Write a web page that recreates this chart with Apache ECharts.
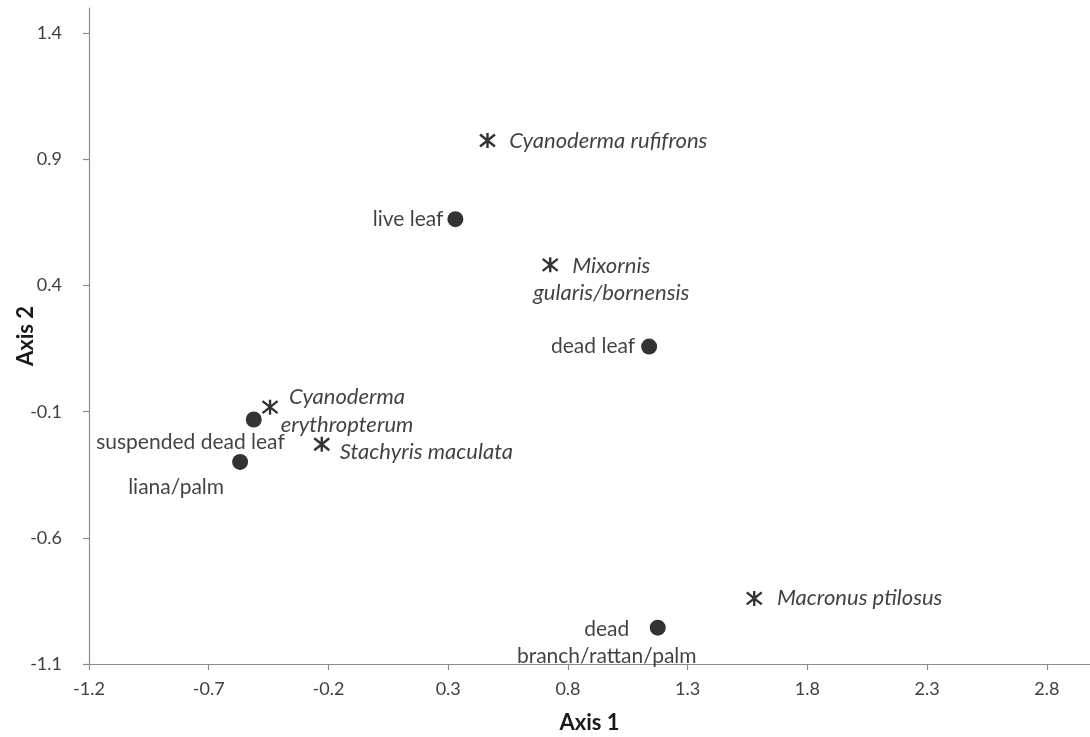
<!DOCTYPE html>
<html>
<head>
<meta charset="utf-8">
<script src="https://cdn.jsdelivr.net/npm/echarts@6/dist/echarts.min.js"></script>
<style>
  html, body { margin: 0; padding: 0; background: #ffffff; }
  #chart { width: 1090px; height: 737px; }
</style>
</head>
<body>
<div id="chart"></div>
<script>
// ---- data ----
var habitatNames = ['live leaf', 'dead leaf', 'suspended dead leaf', 'liana/palm', 'dead\nbranch/rattan/palm'];
var habitatX = [0.330, 1.139, -0.512, -0.569, 1.175];
var habitatY = [0.663, 0.158, -0.131, -0.299, -0.956];

var speciesNames = ['Cyanoderma rufifrons', 'Mixornis\ngularis/bornensis', 'Cyanoderma\nerythropterum', 'Stachyris maculata', 'Macronus ptilosus'];
var speciesX = [0.464, 0.726, -0.444, -0.228, 1.578];
var speciesY = [0.975, 0.482, -0.082, -0.229, -0.840];

var xTicks = [-1.2, -0.7, -0.2, 0.3, 0.8, 1.3, 1.8, 2.3, 2.8];
var yTicks = [-1.1, -0.6, -0.1, 0.4, 0.9, 1.4];

// ---- label placement (styling) ----
var habitatLabelStyle = [
  { position: 'left', distance: 4 },
  { position: 'left', distance: 6 },
  { position: 'inside', align: 'right', offset: [31, 23] },
  { position: 'inside', align: 'center', offset: [-64, 25] },
  { position: 'inside', align: 'center', offset: [-51, 15], lineHeight: 27 }
];
var speciesLabelStyle = [
  { position: 'right', distance: 13 },
  { position: 'inside', align: 'center', offset: [61, 15], lineHeight: 27 },
  { position: 'inside', align: 'center', offset: [77, 4], lineHeight: 28 },
  { position: 'inside', align: 'left', offset: [18, 8] },
  { position: 'right', distance: 14 }
];

var FONT = 'Lato';

function buildData(names, xs, ys, styles, italic) {
  return names.map(function (n, i) {
    var lab = Object.assign({
      show: true, fontFamily: FONT, fontSize: italic ? 22 : 21, color: '#111111'
    }, styles[i], { formatter: n });
    if (italic) lab.fontStyle = 'italic';
    return { name: n, value: [xs[i], ys[i]], label: lab };
  });
}

var starPath = 'path://M5,0L5,10M0,1L10,9M0,9L10,1';

var chart = echarts.init(document.getElementById('chart'), null, { renderer: 'canvas' });
chart.setOption({
  animation: false,
  backgroundColor: '#ffffff',
  grid: { left: 89, right: 0, top: 8, bottom: 73, containLabel: false, outerBoundsMode: 'none' },
  xAxis: {
    type: 'value',
    min: -1.2,
    max: 2.98,
    name: 'Axis 1',
    nameLocation: 'middle',
    nameGap: 48,
    nameTextStyle: { fontFamily: FONT, fontWeight: 'bold', fontSize: 22, color: '#1a1a1a' },
    axisLine: { show: true, onZero: false, lineStyle: { color: '#8c8c8c', width: 1.2 } },
    axisTick: { show: true, length: 6, lineStyle: { color: '#8c8c8c', width: 1.2 }, customValues: xTicks },
    axisLabel: {
      customValues: xTicks,
      margin: 16,
      fontFamily: FONT, fontSize: 18, color: '#404040',
      formatter: function (v) { return v.toFixed(1); }
    },
    splitLine: { show: false }
  },
  yAxis: {
    type: 'value',
    min: -1.1,
    max: 1.5,
    name: 'Axis 2',
    nameLocation: 'middle',
    nameRotate: 90,
    nameGap: 52,
    nameMoveOverlap: false,
    nameTextStyle: { fontFamily: FONT, fontWeight: 'bold', fontSize: 22, color: '#1a1a1a' },
    axisLine: { show: true, onZero: false, lineStyle: { color: '#8c8c8c', width: 1.2 } },
    axisTick: { show: true, length: 6, lineStyle: { color: '#8c8c8c', width: 1.2 }, customValues: yTicks },
    axisLabel: {
      customValues: yTicks,
      margin: 27,
      fontFamily: FONT, fontSize: 18, color: '#404040',
      formatter: function (v) { return v.toFixed(1); }
    },
    splitLine: { show: false }
  },
  series: [
    {
      name: 'habitat',
      type: 'scatter',
      symbol: 'circle',
      symbolSize: 16,
      itemStyle: { color: '#000000' },
      data: buildData(habitatNames, habitatX, habitatY, habitatLabelStyle, false)
    },
    {
      name: 'species',
      type: 'scatter',
      symbol: starPath,
      symbolSize: 15,
      itemStyle: { color: 'rgba(0,0,0,0)', borderColor: '#000000', borderWidth: 2.4 },
      data: buildData(speciesNames, speciesX, speciesY, speciesLabelStyle, true)
    }
  ]
});
</script>
</body>
</html>
